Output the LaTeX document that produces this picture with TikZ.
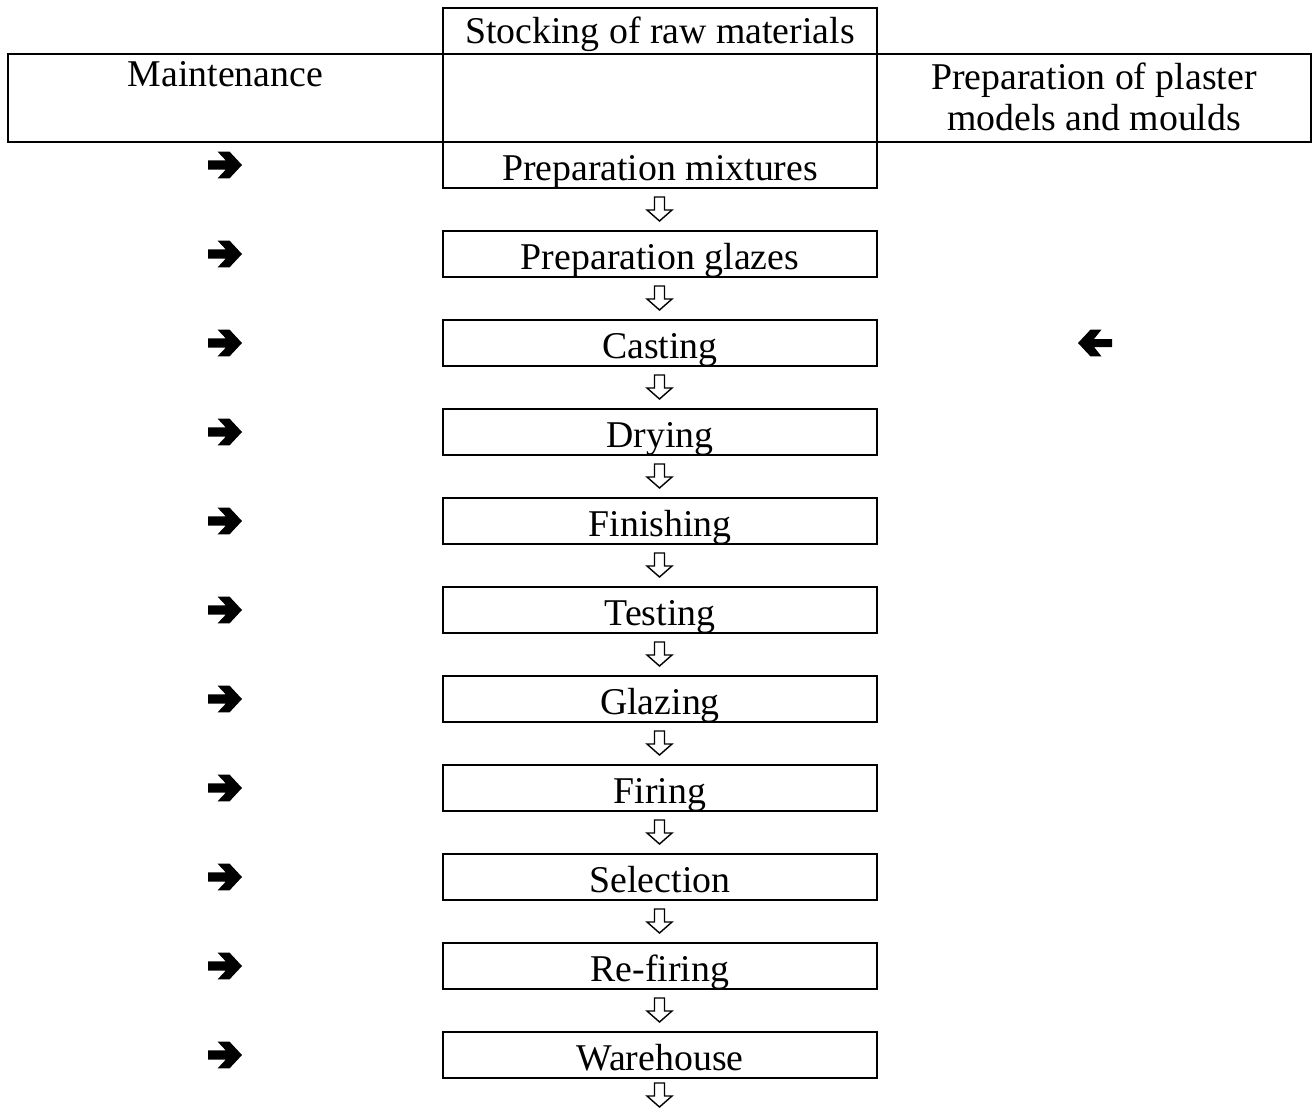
\documentclass[tikz,border=0pt]{standalone}
\usepackage{fontspec}
\setmainfont{Liberation Serif}
\usetikzlibrary{calc}
\begin{document}
\begin{tikzpicture}[x=1pt,y=-1pt,
  every node/.style={font=\fontsize{37.8}{40}\selectfont, inner sep=0pt, outer sep=0pt},
  cell/.style={draw, line width=2pt},
  stepbox/.style={cell, minimum width=434pt, text height=38pt, text depth=8pt, anchor=north},
  rarrow/.pic={\fill (-17,-4.6) -- (0.8,-4.6) -- (-7.5,-13.4) -- (4.5,-13.4) -- (17,0) -- (4.5,13.4) -- (-7.5,13.4) -- (0.8,4.6) -- (-17,4.6) -- cycle;},
  larrow/.pic={\fill (17,-4) -- (-1,-4) -- (6.5,-13.4) -- (-4.5,-13.4) -- (-17,0) -- (-4.5,13.4) -- (6.5,13.4) -- (-1,4) -- (17,4) -- cycle;},
  darrow/.pic={\draw[line width=1.4pt, line join=miter] (-5,0) -- (5,0) -- (5,13) -- (12.5,13) -- (0,24) -- (-12.5,13) -- (-5,13) -- cycle;}
]
\useasboundingbox (0,0) rectangle (1313,1113);
% top table
\node[cell, minimum width=434pt, text height=36pt, text depth=10pt, anchor=north] (stock) at (660,8) {Stocking of raw materials};
\node[cell, minimum width=435pt, text height=33pt, text depth=55pt, anchor=north west] (maint) at (8,54) {Maintenance};
\node[cell, minimum width=434pt, minimum height=88pt, anchor=north west] (mid) at (443,54) {};
\node[cell, minimum width=434pt, text height=76pt, text depth=12pt, align=center, anchor=north west] (plaster) at (877,54) {Preparation of plaster\\models and moulds};
% process boxes
\foreach \t [count=\i from 0] in {Preparation mixtures, Preparation glazes, Casting, Drying, Finishing, Testing, Glazing, Firing, Selection, Re-firing, Warehouse}
  \node[stepbox] (b\i) at (660,{142+89*\i}) {\t};
% down arrows
\foreach \i in {0,...,9}
  \pic at ($(b\i.south)+(-0.5,9)$) {darrow};
\pic at ($(b10.south)+(-0.5,5)$) {darrow};
% maintenance arrows
\foreach \i in {0,...,10}
  \pic at ($(b\i.west)+(-218,0)$) {rarrow};
% plaster arrow to casting
\pic at ($(b2.east)+(218,0)$) {larrow};
\end{tikzpicture}
\end{document}
